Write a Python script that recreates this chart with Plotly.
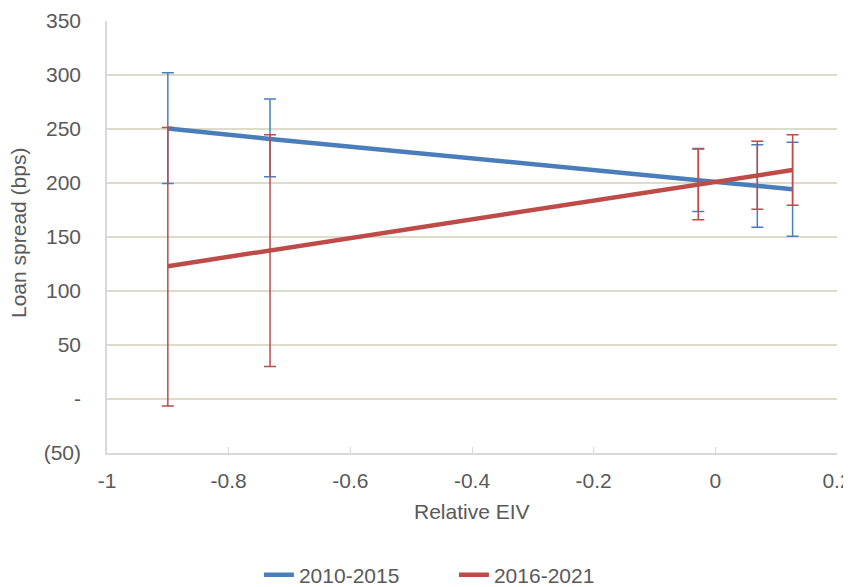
import plotly.graph_objects as go

relative_eiv = [-0.9, -0.732, -0.028, 0.069, 0.127]

series_names = ["2010-2015", "2016-2021"]

blue_spread = [250.5, 240.8, 202.6, 197.2, 194.2]
blue_upper = [302, 277.8, 232, 235.5, 237.7]
blue_lower = [199.5, 205.8, 173.5, 159, 150.6]

red_spread = [123, 137.6, 198.5, 207, 212]
red_upper = [251.5, 244.7, 231.5, 238.6, 244.7]
red_lower = [-6.5, 30, 166, 175.6, 179.3]

y_tick_vals = [-50, 0, 50, 100, 150, 200, 250, 300, 350]
y_tick_text = ["(50)", "-", "50", "100", "150", "200", "250", "300", "350"]
x_tick_vals = [-1, -0.8, -0.6, -0.4, -0.2, 0, 0.2]
x_tick_text = ["-1", "-0.8", "-0.6", "-0.4", "-0.2", "0", "0.2"]

x_title = "Relative EIV"
y_title = "Loan spread (bps)"

BLUE = "#4A7EBB"
RED = "#BE4B48"
TXT = "#595959"
FAM = "Liberation Sans, Arial, sans-serif"

fig = go.Figure()
for name, y, up, lo, col in [
    (series_names[0], blue_spread, blue_upper, blue_lower, BLUE),
    (series_names[1], red_spread, red_upper, red_lower, RED),
]:
    fig.add_trace(go.Scatter(
        x=relative_eiv, y=y, name=name, mode="lines",
        line=dict(color=col, width=4.5),
        error_y=dict(type="data", symmetric=False,
                     array=[u - v for u, v in zip(up, y)],
                     arrayminus=[v - l for v, l in zip(y, lo)],
                     color=col, thickness=1.5, width=6),
    ))

fig.update_layout(
    width=851, height=587,
    margin=dict(l=99, r=22, t=13, b=142, autoexpand=False),
    plot_bgcolor="white", paper_bgcolor="white",
    font=dict(family=FAM, color=TXT, size=21),
    showlegend=True,
    legend=dict(orientation="h", xref="container", yref="container",
                x=0.524, xanchor="center", y=0.034, yanchor="middle",
                entrywidth=150, entrywidthmode="pixels",
                font=dict(size=21, color=TXT, family=FAM)),
    xaxis=dict(
        range=[-1, 0.2], tickvals=x_tick_vals, ticktext=x_tick_text,
        showgrid=False, zeroline=False, automargin=False,
        showline=True, linecolor="#D9D9D9", linewidth=1.5,
        ticks="inside", ticklen=6, tickcolor="#D9D9D9",
        ticklabelstandoff=8,
        tickfont=dict(size=21, color=TXT, family=FAM),
    ),
    yaxis=dict(
        range=[-50, 350], tickvals=y_tick_vals, ticktext=y_tick_text,
        showgrid=True, gridcolor="#DDDBCA", gridwidth=1.5, zeroline=False, automargin=False,
        showline=True, linecolor="#D9D9D9", linewidth=1.5,
        ticks="inside", ticklen=4, tickcolor="#D9D9D9",
        ticklabelstandoff=20,
        tickfont=dict(size=21, color=TXT, family=FAM),
    ),
    annotations=[
        dict(text=x_title, xref="paper", yref="paper", x=0.5, y=0,
             xanchor="center", yanchor="middle", yshift=-58, showarrow=False,
             font=dict(size=21, color=TXT, family=FAM)),
        dict(text=y_title, xref="paper", yref="paper", x=0, y=0.5,
             xanchor="center", yanchor="middle", xshift=-89, yshift=4,
             textangle=-90, showarrow=False,
             font=dict(size=21, color=TXT, family=FAM)),
    ],
)

fig.write_html("out.html")
